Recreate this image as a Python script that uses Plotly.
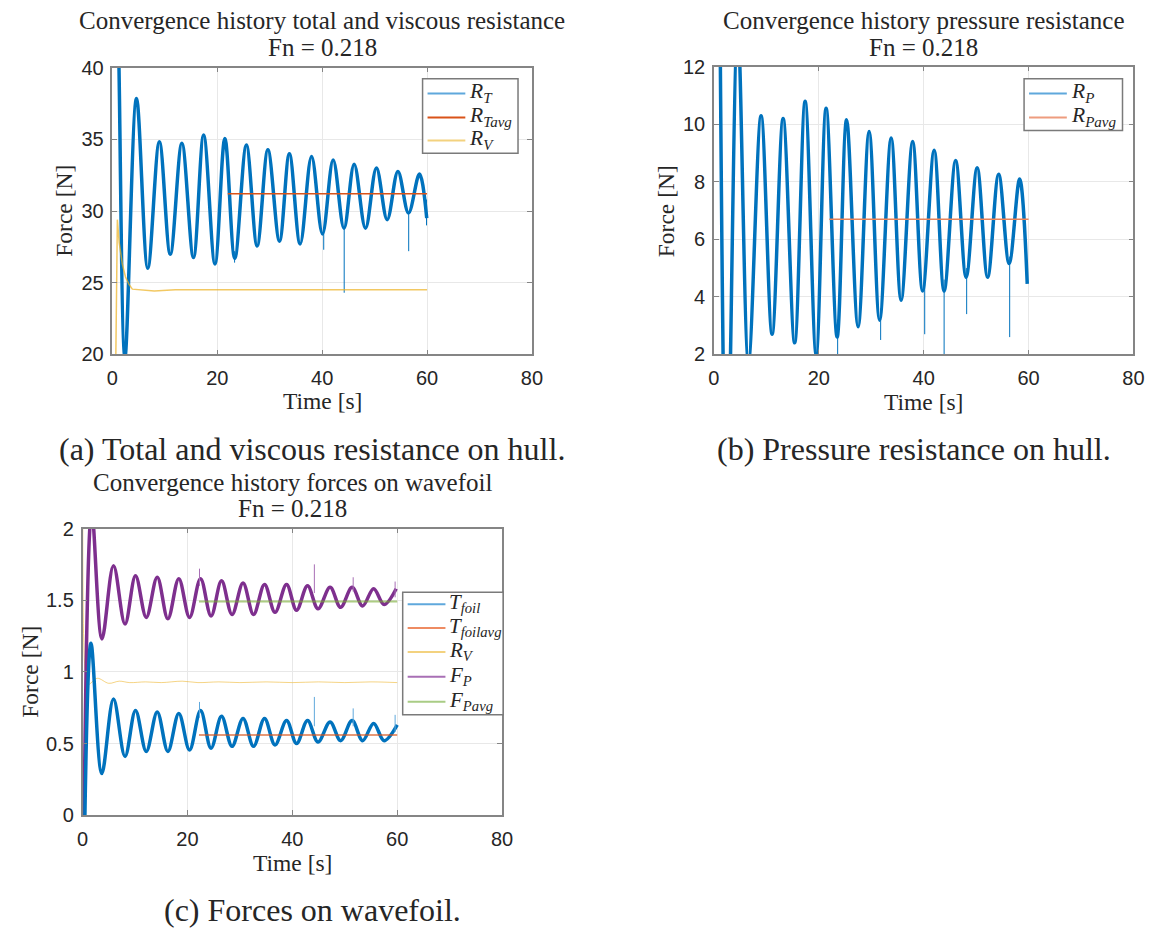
import plotly.graph_objects as go

W, H = 1154, 930
# layout positions below are written in page pixels; these convert them to figure pixels
OX, OY = 3.0, 9.0
SX, SY = 0.991, 0.981

# ---------------- (a) total and viscous resistance on hull ----------------
rt_t = [0.95, 1.26, 2.4, 4.6, 6.75, 8.96, 11.04, 13.25, 15.46, 17.4, 19.56, 21.45,
        23.34, 25.55, 27.6, 29.65, 31.86, 33.75, 35.8, 37.98, 40.06, 42.1, 44.16,
        46.1, 48.26, 50.35, 52.4, 54.45, 56.47, 58.55, 59.94]
rt_v = [47.0, 40.0, 19.8, 37.85, 26.0, 34.84, 26.98, 34.73, 26.75, 35.3, 26.3, 35.07,
        26.7, 34.6, 27.56, 34.27, 27.9, 34.0, 27.7, 33.8, 28.4, 33.57, 28.8,
        33.27, 28.8, 33.0, 29.4, 32.76, 29.87, 32.58, 29.5]
rt_spike_t = [23.3, 40.3, 44.2, 56.5, 59.9]
rt_spike_lo = [26.4, 27.3, 24.3, 27.2, 29.0]
rt_spike_hi = [27.2, 28.8, 28.9, 29.9, 30.8]
rv_a_t = [0.6, 0.95, 1.3, 1.9, 2.5, 3.15, 3.8, 5.0, 8.0, 12.0, 30.0, 45.0, 60.0]
rv_a_v = [18.0, 29.4, 27.8, 26.3, 25.4, 24.9, 24.55, 24.5, 24.42, 24.5, 24.5, 24.52, 24.5]
rt_avg_t = [22.0, 60.0]
rt_avg_v = [31.2, 31.2]

# ---------------- (b) pressure resistance on hull ----------------
rp_t = [1.0, 2.45, 4.55, 6.6, 9.0, 11.1, 13.2, 15.4, 17.4, 19.5, 21.4, 23.5, 25.3,
        27.5, 29.6, 31.6, 33.8, 35.7, 37.9, 39.8, 42.0, 43.9, 46.1, 48.1, 50.2,
        52.2, 54.3, 56.3, 58.3, 59.75]
rp_v = [18.0, -3.5, 13.4, 1.75, 10.3, 2.7, 10.2, 2.4, 10.8, 2.0, 10.56, 2.6, 10.16,
        2.96, 9.75, 3.19, 9.52, 3.88, 9.4, 4.2, 9.1, 4.2, 8.74, 4.68, 8.49,
        4.68, 8.26, 5.16, 8.1, 4.45]
rp_spike_t = [23.6, 31.8, 40.2, 43.9, 48.2, 56.4]
rp_spike_lo = [1.8, 2.5, 2.7, 1.5, 3.4, 2.6]
rp_spike_hi = [3.2, 3.6, 4.6, 4.6, 5.0, 5.4]
rp_avg_t = [22.0, 60.0]
rp_avg_v = [6.7, 6.7]

# ---------------- (c) forces on wavefoil ----------------
fp_t = [0.3, 1.75, 3.7, 5.9, 8.1, 10.1, 12.15, 14.24, 16.27, 18.35, 20.4, 22.5, 24.5,
        26.5, 28.5, 30.6, 32.6, 34.7, 36.7, 38.9, 40.8, 42.9, 44.9, 47.2, 49.2,
        51.4, 53.4, 55.5, 57.5, 59.8]
fp_v = [0.0, 2.12, 1.23, 1.74, 1.334, 1.67, 1.38, 1.66, 1.37, 1.65, 1.38, 1.65, 1.39,
        1.635, 1.40, 1.62, 1.40, 1.61, 1.415, 1.61, 1.43, 1.60, 1.44, 1.59, 1.45,
        1.59, 1.46, 1.58, 1.47, 1.58]
fp_spike_t = [22.3, 44.2, 51.6, 59.6]
fp_spike_lo = [1.60, 1.55, 1.56, 1.52]
fp_spike_hi = [1.72, 1.75, 1.66, 1.63]
tf_t = [0.45, 1.6, 3.67, 5.9, 8.1, 10.1, 12.15, 14.24, 16.27, 18.35, 20.4, 22.5, 24.5,
        26.5, 28.5, 30.6, 32.6, 34.7, 36.7, 38.9, 40.8, 42.9, 44.9, 47.2, 49.2,
        51.4, 53.4, 55.5, 57.5, 60.0]
tf_v = [0.0, 1.2, 0.29, 0.81, 0.41, 0.73, 0.445, 0.72, 0.445, 0.71, 0.455, 0.73, 0.467,
        0.69, 0.48, 0.675, 0.48, 0.675, 0.49, 0.66, 0.50, 0.66, 0.51, 0.65, 0.52,
        0.66, 0.52, 0.64, 0.52, 0.63]
tf_spike_t = [22.3, 44.2, 51.6, 59.6]
tf_spike_lo = [0.68, 0.62, 0.62, 0.58]
tf_spike_hi = [0.79, 0.825, 0.745, 0.70]
rv_c_t = [0.05, 0.5, 1.0, 2.8, 5.0, 7.0, 9.0, 12.0, 15.0, 19.0, 22.0, 26.0, 30.0,
          35.0, 40.0, 45.0, 50.0, 55.0, 60.0]
rv_c_v = [2.3, 1.0, 0.91, 0.955, 0.92, 0.935, 0.925, 0.93, 0.925, 0.935, 0.925, 0.93,
          0.925, 0.93, 0.925, 0.93, 0.925, 0.93, 0.925]
tf_avg_t = [22.2, 60.0]
tf_avg_v = [0.56, 0.56]
fp_avg_t = [22.2, 60.0]
fp_avg_v = [1.49, 1.49]

BLUE = "#0072BD"
BLUE_L = "#5FA8DC"
ORANGE = "#D95319"
ORANGE_L = "rgba(217,83,25,0.6)"
YELLOW_L = "rgba(237,177,32,0.55)"
PURPLE = "#7E2F8E"
PURPLE_L = "#A86FB5"
GREEN_L = "rgba(119,172,48,0.6)"

SERIF = "Liberation Serif"
SANS = "Liberation Sans"
INK = "#262626"
FRAME = "#858585"


def spikes(ts, lo, hi):
    xs, ys = [], []
    for t, a, b in zip(ts, lo, hi):
        xs += [t, t, None]
        ys += [a, b, None]
    return xs, ys


fig = go.Figure()


def data_line(x, y, color, width, xa, ya, shape="spline"):
    fig.add_trace(go.Scatter(x=x, y=y, mode="lines", xaxis=xa, yaxis=ya,
                             line=dict(color=color, width=width, shape=shape),
                             showlegend=False, hoverinfo="skip"))


# (a)
data_line(rt_t, rt_v, BLUE, 3.5, "x", "y")
sx, sy = spikes(rt_spike_t, rt_spike_lo, rt_spike_hi)
data_line(sx, sy, BLUE, 1, "x", "y", "linear")
data_line(rt_avg_t, rt_avg_v, ORANGE, 1.5, "x", "y", "linear")
data_line(rv_a_t, rv_a_v, "rgba(237,177,32,0.7)", 1.5, "x", "y", "linear")

# (b)
data_line(rp_t, rp_v, BLUE, 3.5, "x2", "y2")
sx, sy = spikes(rp_spike_t, rp_spike_lo, rp_spike_hi)
data_line(sx, sy, BLUE, 1, "x2", "y2", "linear")
data_line(rp_avg_t, rp_avg_v, "#E8845A", 1.5, "x2", "y2", "linear")

# (c)
data_line(rv_c_t, rv_c_v, YELLOW_L, 1, "x3", "y3", "spline")
data_line(fp_t, fp_v, PURPLE, 3.5, "x3", "y3")
sx, sy = spikes(fp_spike_t, fp_spike_lo, fp_spike_hi)
data_line(sx, sy, PURPLE_L, 1, "x3", "y3", "linear")
data_line(tf_t, tf_v, BLUE, 3.5, "x3", "y3")
sx, sy = spikes(tf_spike_t, tf_spike_lo, tf_spike_hi)
data_line(sx, sy, BLUE_L, 1, "x3", "y3", "linear")
data_line(tf_avg_t, tf_avg_v, ORANGE_L, 2, "x3", "y3", "linear")
data_line(fp_avg_t, fp_avg_v, GREEN_L, 2, "x3", "y3", "linear")


# page pixel -> paper fraction
def px_x(p):
    return (p - OX) / SX / W


def px_y(p):
    return 1 - (p - OY) / SY / H


def axis(dom, anchor, rng, dtick):
    return dict(domain=dom, anchor=anchor, range=rng, dtick=dtick,
                showgrid=True, gridcolor="#e8e8e8", gridwidth=1,
                showline=True, linecolor=FRAME, linewidth=1.5, mirror="ticks",
                ticks="inside", ticklen=5, tickcolor=FRAME,
                tickfont=dict(family=SANS, size=20, color=INK),
                zeroline=False, fixedrange=True)


# plot boxes in page pixels: (left, right, top, bottom)
boxes = {
    "a": (110, 532, 66, 354),
    "b": (715, 1137, 65, 354),
    "c": (80, 502, 529, 817),
}


def xdom(k):
    l, r, t, b = boxes[k]
    return [px_x(l), px_x(r)]


def ydom(k):
    l, r, t, b = boxes[k]
    return [px_y(b), px_y(t)]


xa = axis(xdom("a"), "y", [0, 80], 20)
ya = axis(ydom("a"), "x", [20, 40], 5)
xb = axis(xdom("b"), "y2", [0, 80], 20)
yb = axis(ydom("b"), "x2", [2, 12], 2)
xc = axis(xdom("c"), "y3", [0, 80], 20)
yc = axis(ydom("c"), "x3", [0, 2], 0.5)
for ax in (xa, xb, xc):
    ax["ticklabelstandoff"] = 5
for ax in (ya, yb, yc):
    ax["ticklabelstandoff"] = 3

annotations = []
shapes = []


def text(x, y, s, size, angle=0, anchor="center"):
    annotations.append(dict(x=px_x(x), y=px_y(y), xref="paper", yref="paper",
                            text=s, showarrow=False, textangle=angle,
                            xanchor=anchor, yanchor="middle",
                            font=dict(family=SERIF, size=size, color=INK)))


def legend_box(l, r, t, b, entries, size):
    shapes.append(dict(type="rect", xref="paper", yref="paper",
                       x0=px_x(l), x1=px_x(r), y0=px_y(b), y1=px_y(t),
                       line=dict(color="#7a7a7a", width=1.5), fillcolor="white",
                       layer="above"))
    for y, color, label in entries:
        shapes.append(dict(type="line", xref="paper", yref="paper",
                           x0=px_x(l + 5), x1=px_x(l + 43), y0=px_y(y), y1=px_y(y),
                           line=dict(color=color, width=2), layer="above"))
        text(l + 45, y - 1, label, size, anchor="left")


legend_box(422, 518, 77, 152, [
    (92, BLUE_L, "<i>R</i><sub><i>T</i></sub>"),
    (116, ORANGE, "<i>R</i><sub><i>Tavg</i></sub>"),
    (139, "#F3D27F", "<i>R</i><sub><i>V</i></sub>"),
], 21.5)
legend_box(1027, 1126, 77, 129, [
    (92, BLUE_L, "<i>R</i><sub><i>P</i></sub>"),
    (116, "#EE9C7E", "<i>R</i><sub><i>Pavg</i></sub>"),
], 21.5)
legend_box(402, 503, 593, 716, [
    (605, BLUE_L, "<i>T</i><sub><i>foil</i></sub>"),
    (629, "#EE8B62", "<i>T</i><sub><i>foilavg</i></sub>"),
    (653, "#F3D27F", "<i>R</i><sub><i>V</i></sub>"),
    (678, PURPLE_L, "<i>F</i><sub><i>P</i></sub>"),
    (703, "#A9CC85", "<i>F</i><sub><i>Pavg</i></sub>"),
], 21)

# subplot titles
text(321, 19, "Convergence history total and viscous resistance", 25)
text(321, 46, "Fn = 0.218", 25)
text(926, 19, "Convergence history pressure resistance", 25)
text(926, 46, "Fn = 0.218", 25)
text(291, 483, "Convergence history forces on wavefoil", 25)
text(291, 509, "Fn = 0.218", 25)
# axis titles
text(321, 401, "Time [s]", 23.5)
text(926, 402, "Time [s]", 23.5)
text(291, 865, "Time [s]", 23.5)
text(61, 210, "Force [N]", 23.5, -90)
text(667, 210, "Force [N]", 23.5, -90)
text(27, 673, "Force [N]", 23.5, -90)
# captions
text(311, 449, "(a) Total and viscous resistance on hull.", 32)
text(916, 449, "(b) Pressure resistance on hull.", 32)
text(311, 912, "(c) Forces on wavefoil.", 32)

fig.update_layout(
    width=W, height=H, margin=dict(l=0, r=0, t=0, b=0),
    paper_bgcolor="white", plot_bgcolor="white",
    xaxis=xa, yaxis=ya, xaxis2=xb, yaxis2=yb, xaxis3=xc, yaxis3=yc,
    annotations=annotations, shapes=shapes,
    showlegend=False,
)

fig.write_html("out.html")
